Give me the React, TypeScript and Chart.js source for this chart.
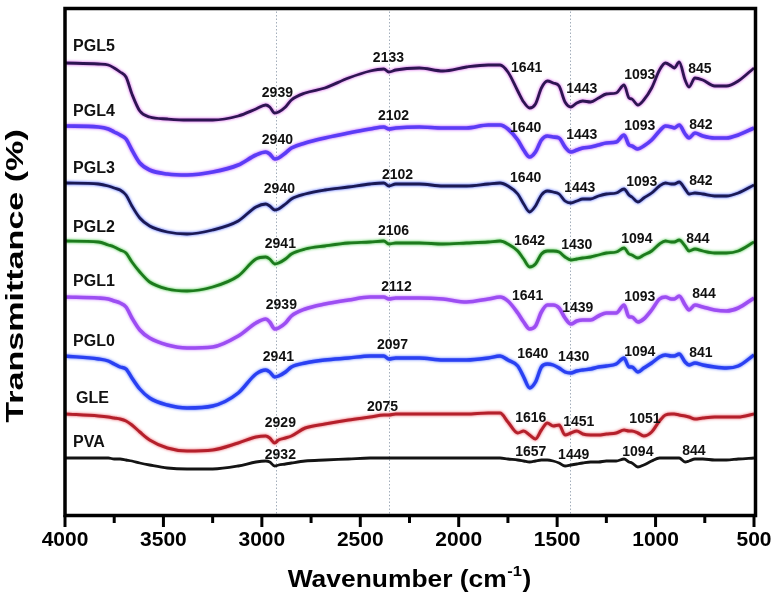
import React, { useEffect, useRef } from 'react';
import { Chart, registerables } from 'chart.js';

Chart.register(...registerables);

const FONT = "'Liberation Sans', Arial, Helvetica, sans-serif";

// Wavenumber grid (cm-1) shared by every spectrum
const wavenumbers = [
  4000, 3830, 3780, 3750, 3720, 3690, 3660, 3620, 3570, 3480,
  3380, 3250, 3120, 3030, 2980, 2960, 2935, 2915, 2880, 2850,
  2780, 2680, 2560, 2450, 2380, 2355, 2320, 2200, 2080, 1960,
  1850, 1790, 1750, 1700, 1670, 1640, 1610, 1580, 1550, 1520,
  1490, 1460, 1430, 1400, 1370, 1330, 1290, 1250, 1200, 1160,
  1135, 1120, 1090, 1060, 1020, 980, 950, 920, 905, 880,
  850, 830, 800, 760, 700, 640, 580, 500,
];

// Offset transmittance (a.u.) for each sample
const pgl5 = [
  452, 451, 450, 447, 443, 438, 421, 404, 398, 396,
  395, 395, 399, 406, 410, 408, 402, 403, 408, 415,
  422, 427, 437, 444, 446, 443, 445, 447, 444, 448,
  450, 450, 443, 424, 413, 407, 411, 427, 434, 432,
  429, 413, 408, 412, 414, 413, 417, 421, 422, 430,
  417, 416, 410, 415, 427, 445, 452, 449, 447, 453,
  435, 428, 437, 435, 429, 429, 434, 447,
];
const pgl4 = [
  389, 388, 386, 383, 380, 376, 365, 352, 345, 341,
  340, 343, 350, 360, 363, 361, 356, 357, 362, 367,
  372, 377, 382, 386, 388, 386, 387, 388, 387, 387,
  390, 390, 386, 375, 365, 358, 363, 375, 379, 378,
  377, 368, 363, 365, 367, 368, 370, 372, 373, 380,
  370, 369, 366, 369, 375, 384, 389, 388, 387, 390,
  381, 377, 382, 379, 377, 377, 380, 387,
];
const pgl3 = [
  332, 331, 329, 327, 325, 320, 309, 297, 289, 283,
  281, 285, 294, 308, 311, 309, 305, 306, 311, 316,
  321, 325, 328, 331, 332, 329, 331, 331, 329, 329,
  331, 332, 329, 321, 311, 303, 309, 320, 324, 323,
  321, 314, 312, 314, 316, 316, 319, 321, 322, 326,
  320, 318, 313, 317, 322, 329, 332, 331, 331, 333,
  326, 321, 322, 321, 319, 319, 322, 330,
];
const pgl2 = [
  274, 273, 270, 268, 265, 262, 253, 243, 233, 226,
  224, 228, 239, 256, 258, 256, 251, 252, 256, 261,
  266, 269, 272, 273, 274, 271, 272, 272, 271, 272,
  273, 274, 271, 264, 256, 248, 251, 261, 264, 264,
  263, 258, 255, 256, 257, 258, 260, 262, 263, 267,
  261, 260, 257, 260, 264, 271, 274, 273, 273, 275,
  269, 264, 266, 264, 262, 262, 264, 273,
];
const pgl1 = [
  218, 217, 216, 214, 212, 208, 197, 185, 177, 170,
  167, 168, 179, 192, 196, 193, 186, 187, 192, 199,
  206, 211, 215, 218, 218, 216, 217, 217, 216, 213,
  216, 218, 214, 202, 193, 186, 189, 203, 210, 210,
  207, 197, 191, 194, 195, 195, 199, 202, 202, 210,
  198, 198, 193, 196, 205, 216, 218, 216, 216, 219,
  210, 205, 210, 208, 205, 204, 207, 217,
];
const pgl0 = [
  159, 156, 154, 151, 148, 146, 137, 126, 117, 110,
  107, 109, 122, 141, 145, 143, 138, 139, 143, 148,
  152, 155, 157, 159, 159, 156, 157, 157, 155, 155,
  157, 159, 155, 149, 138, 127, 133, 148, 151, 150,
  147, 143, 142, 144, 145, 146, 148, 149, 151, 157,
  148, 148, 143, 147, 152, 158, 160, 159, 159, 161,
  153, 150, 152, 150, 148, 147, 149, 160,
];
const gle = [
  101, 99, 98, 97, 96, 94, 90, 83, 75, 67,
  64, 65, 72, 78, 79, 77, 72, 75, 77, 79,
  87, 91, 95, 98, 100, 100, 101, 101, 101, 101,
  102, 102, 93, 82, 84, 80, 76, 85, 92, 89,
  90, 80, 82, 84, 81, 80, 80, 81, 82, 85,
  84, 84, 82, 79, 83, 94, 100, 101, 101, 100,
  99, 98, 96, 97, 98, 98, 98, 101,
];
const pva = [
  57, 57, 57, 56, 56, 55, 54, 52, 50, 47,
  46, 46, 49, 53, 54, 53, 49, 50, 51, 52,
  54, 55, 56, 57, 57, 57, 57, 57, 57, 57,
  57, 57, 56, 55, 54, 53, 54, 55, 55, 54,
  52, 49, 50, 51, 52, 53, 53, 54, 54, 56,
  53, 52, 48, 50, 54, 57, 57, 57, 57, 57,
  53, 54, 56, 56, 55, 55, 56, 57,
];

const seriesNames = ['PGL5', 'PGL4', 'PGL3', 'PGL2', 'PGL1', 'PGL0', 'GLE', 'PVA'];
const seriesValues = [pgl5, pgl4, pgl3, pgl2, pgl1, pgl0, gle, pva];
const lineColors = ['#2e1552', '#5b3cf6', '#1b1a55', '#1d7a1d', '#9c4ef2', '#2a40f2', '#b4202b', '#141414'];
const haloColors = ['#d24ae8', '#b24cff', '#3b55ff', '#36c236', '#c77cff', '#4f6cff', '#e8505c', 'rgba(0,0,0,0)'];
const lineWidths = [2.8, 3.6, 2.8, 2.8, 3.6, 3.4, 3, 2.8];

// Sample name labels: [name, wavenumber at left edge, offset transmittance]
const nameLabels: [string, number, number][] = [
  ['PGL5', 3959, 468], ['PGL4', 3959, 403], ['PGL3', 3959, 346], ['PGL2', 3959, 287],
  ['PGL1', 3959, 233], ['PGL0', 3959, 173], ['GLE', 3944, 116], ['PVA', 3959, 72],
];

// Peak annotations: [text, wavenumber at text centre, offset transmittance]
const peakLabels: [string, number, number][] = [
  ['2939', 2921, 422], ['2133', 2357, 457], ['1641', 1655, 447], ['1443', 1375, 426], ['1093', 1080, 440], ['845', 775, 446],
  ['2940', 2921, 375], ['2102', 2331, 399], ['1640', 1660, 387], ['1443', 1375, 380], ['1093', 1080, 389], ['842', 770, 390],
  ['2940', 2911, 326], ['2102', 2311, 340], ['1640', 1660, 337], ['1443', 1385, 327], ['1093', 1070, 333], ['842', 770, 334],
  ['2941', 2906, 271], ['2106', 2331, 284], ['1642', 1640, 274], ['1430', 1400, 270], ['1094', 1095, 276], ['844', 785, 276],
  ['2939', 2901, 210], ['2112', 2316, 228], ['1641', 1650, 219], ['1439', 1395, 207], ['1093', 1080, 218], ['844', 754, 221],
  ['2941', 2916, 158], ['2097', 2336, 170], ['1640', 1624, 161], ['1430', 1416, 158], ['1094', 1080, 163], ['841', 770, 162],
  ['2929', 2906, 92], ['2075', 2387, 108], ['1616', 1634, 97], ['1451', 1390, 93], ['1051', 1054, 96],
  ['2932', 2906, 60], ['1657', 1634, 63], ['1449', 1416, 60], ['1094', 1090, 63], ['844', 805, 64],
];

const guideLines = [2927, 2352, 1436];
const xTitle = 'Wavenumber (cm';
const xTitleSup = '-1';
const yTitle = 'Transmittance (%)';

const overlay = {
  id: 'overlay',
  beforeDatasetsDraw(chart: any) {
    const { ctx, chartArea, scales } = chart;
    ctx.save();
    ctx.strokeStyle = '#a3aebb';
    ctx.lineWidth = 1;
    ctx.setLineDash([1.5, 2]);
    for (const w of guideLines) {
      const px = Math.round(scales.x.getPixelForValue(w)) + 0.5;
      ctx.beginPath();
      ctx.moveTo(px, chartArea.top);
      ctx.lineTo(px, chartArea.bottom);
      ctx.stroke();
    }
    ctx.restore();
  },
  beforeDatasetDraw(chart: any, args: any) {
    const ctx = chart.ctx;
    ctx.save();
    ctx.shadowColor = haloColors[args.index];
    ctx.shadowBlur = 3;
  },
  afterDatasetDraw(chart: any) {
    chart.ctx.restore();
  },
  afterDatasetsDraw(chart: any) {
    const { ctx, chartArea, scales } = chart;
    const { x, y } = scales;
    ctx.save();
    ctx.fillStyle = '#111';
    // sample names
    ctx.font = `bold 16px ${FONT}`;
    ctx.textAlign = 'left';
    ctx.textBaseline = 'middle';
    for (const [t, w, v] of nameLabels) ctx.fillText(t, x.getPixelForValue(w), y.getPixelForValue(v));
    // peak labels
    ctx.font = `bold 14px ${FONT}`;
    ctx.textAlign = 'center';
    for (const [t, w, v] of peakLabels) ctx.fillText(t, x.getPixelForValue(w), y.getPixelForValue(v));

    // frame
    ctx.strokeStyle = '#000';
    ctx.lineWidth = 3.5;
    ctx.strokeRect(chartArea.left, chartArea.top + 0.5, chartArea.right - chartArea.left + 1.5, chartArea.bottom - chartArea.top);
    // tick marks (outward)
    ctx.lineWidth = 3;
    for (let w = 500; w <= 4000; w += 250) {
      const px = x.getPixelForValue(w);
      const major = w % 500 === 0;
      ctx.beginPath();
      ctx.moveTo(px, chartArea.bottom);
      ctx.lineTo(px, chartArea.bottom + (major ? 12 : 8));
      ctx.stroke();
    }

    // x title with superscript
    ctx.fillStyle = '#000';
    ctx.textAlign = 'left';
    ctx.textBaseline = 'alphabetic';
    const mainFont = `bold 24px ${FONT}`;
    const supFont = `bold 15px ${FONT}`;
    ctx.font = mainFont;
    const w1 = ctx.measureText(xTitle).width;
    const w3 = ctx.measureText(')').width;
    ctx.font = supFont;
    const w2 = ctx.measureText(xTitleSup).width;
    const sx = 1.1;
    const total = (w1 + w2 + w3 + 1) * sx;
    const cx = (chartArea.left + chartArea.right) / 2;
    ctx.save();
    ctx.translate(cx - total / 2, 587);
    ctx.scale(sx, 1);
    ctx.font = mainFont;
    ctx.fillText(xTitle, 0, 0);
    ctx.font = supFont;
    ctx.fillText(xTitleSup, w1 + 0.5, -11);
    ctx.font = mainFont;
    ctx.fillText(')', w1 + w2 + 1, 0);
    ctx.restore();

    // y title (rotated)
    ctx.save();
    ctx.translate(23, 276);
    ctx.rotate(-Math.PI / 2);
    ctx.scale(1.42, 1);
    ctx.font = mainFont;
    ctx.textAlign = 'center';
    ctx.fillText(yTitle, 0, 0);
    ctx.restore();
    ctx.restore();
  },
};

export default function App() {
  const canvasRef = useRef<HTMLCanvasElement | null>(null);

  useEffect(() => {
    if (!canvasRef.current) return;
    const datasets = seriesNames.map((name, i) => ({
      label: name,
      data: wavenumbers.map((w, k) => ({ x: w, y: seriesValues[i][k] })),
      borderColor: lineColors[i],
      borderWidth: lineWidths[i],
      pointRadius: 0,
      fill: false,
      cubicInterpolationMode: 'monotone' as const,
    }));
    const chart = new Chart(canvasRef.current, {
      type: 'line',
      data: { datasets },
      options: {
        animation: false,
        responsive: false,
        layout: { padding: { left: 65, right: 20, top: 8, bottom: 0 } },
        plugins: { legend: { display: false }, tooltip: { enabled: false } },
        scales: {
          x: {
            type: 'linear',
            reverse: true,
            min: 500,
            max: 4000,
            grid: { display: false, drawTicks: false },
            border: { display: false },
            ticks: {
              stepSize: 500,
              autoSkip: false,
              maxRotation: 0,
              padding: 13,
              color: '#000',
              font: { family: FONT, size: 21, weight: 'bold' },
              callback: (v: any) => String(v),
            },
            afterFit: (s: any) => {
              s.height = 81;
              s.paddingLeft = 0;
              s.paddingRight = 0;
            },
          },
          y: { display: false, min: 0, max: 507 },
        },
      },
      plugins: [overlay],
    });
    return () => chart.destroy();
  }, []);

  return (
    <div style={{ position: 'absolute', left: 0, top: 0, width: 774, height: 596, background: '#fff' }}>
      <canvas ref={canvasRef} width={774} height={596} style={{ display: 'block' }} />
    </div>
  );
}
